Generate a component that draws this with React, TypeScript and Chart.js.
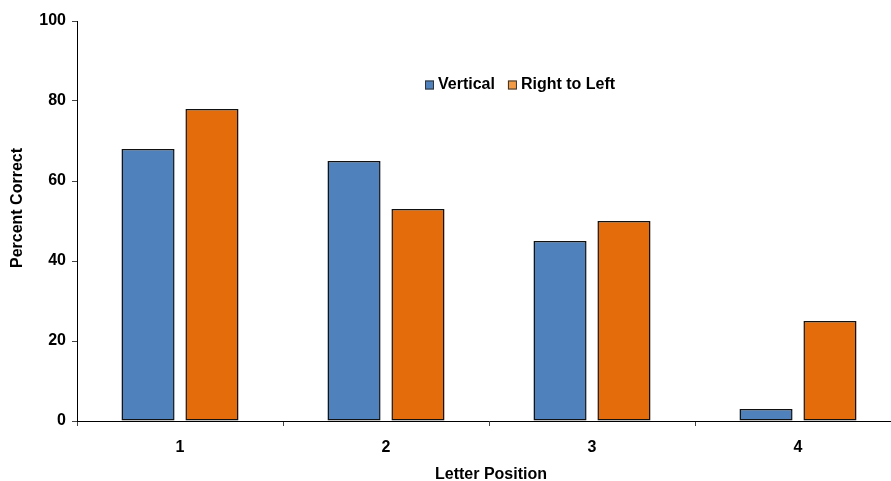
import React, { useEffect, useRef } from "react";
import { Chart, registerables } from "chart.js";

Chart.register(...registerables);

const categories = ["1", "2", "3", "4"];
const verticalValues = [68, 65, 45, 3];
const rightToLeftValues = [78, 53, 50, 25];
const yTicks = [0, 20, 40, 60, 80, 100];
const seriesNames = ["Vertical", "Right to Left"];
const xTitle = "Letter Position";
const yTitle = "Percent Correct";

const BLUE = "#4F81BD";
const ORANGE = "#E46C0A";
const FONT = "'Liberation Sans', Arial, sans-serif";

export default function App() {
  const ref = useRef<HTMLCanvasElement | null>(null);

  useEffect(() => {
    document.body.style.margin = "0";
    const canvas = ref.current;
    if (!canvas) return;

    const decor = {
      id: "decor",
      afterDraw(chart: any) {
        const ctx = chart.ctx;
        ctx.save();
        ctx.fillStyle = "#000";
        ctx.font = `bold 16px ${FONT}`;
        // y title
        ctx.save();
        ctx.translate(18, 208);
        ctx.rotate(-Math.PI / 2);
        ctx.textAlign = "center";
        ctx.textBaseline = "middle";
        ctx.fillText(yTitle, 0, 0);
        ctx.restore();
        // x title
        ctx.textAlign = "center";
        ctx.textBaseline = "middle";
        ctx.fillText(xTitle, 491, 475);
        // legend
        const items = chart.data.datasets.map((d: any, i: number) => ({
          label: d.label,
          color: i === 0 ? BLUE : "#F39A45",
        }));
        let x = 425;
        const y = 85;
        ctx.textAlign = "left";
        items.forEach((it: any) => {
          ctx.fillStyle = it.color;
          ctx.fillRect(x, y - 4.5, 9, 9);
          ctx.strokeStyle = "#333";
          ctx.lineWidth = 1;
          ctx.strokeRect(x + 0.5, y - 4, 8, 8);
          ctx.fillStyle = "#000";
          ctx.fillText(it.label, x + 13, y);
          x += 13 + ctx.measureText(it.label).width + 13;
        });
        ctx.restore();
      },
    };

    const common = {
      borderColor: "#111",
      borderWidth: 1.5,
      borderSkipped: false,
      categoryPercentage: 0.621,
      barPercentage: 0.83,
    };

    const chart = new Chart(canvas, {
      type: "bar",
      data: {
        labels: categories,
        datasets: [
          { label: seriesNames[0], data: verticalValues, backgroundColor: BLUE, ...common },
          { label: seriesNames[1], data: rightToLeftValues, backgroundColor: ORANGE, ...common },
        ],
      },
      options: {
        responsive: false,
        animation: false,
        layout: { padding: { top: 21, right: 0, left: 0, bottom: 0 } },
        plugins: { legend: { display: false }, tooltip: { enabled: false } },
        scales: {
          x: {
            afterFit: (s: any) => {
              s.height = 60;
            },
            grid: {
              offset: true,
              drawOnChartArea: false,
              tickLength: 5,
              color: "#444",
            },
            border: { color: "#000", width: 1 },
            ticks: {
              color: "#000",
              font: { family: FONT, size: 16, weight: "bold" },
              padding: 12,
            },
          },
          y: {
            min: 0,
            max: 100,
            afterFit: (s: any) => {
              s.width = 77;
            },
            afterBuildTicks: (s: any) => {
              s.ticks = yTicks.map((v) => ({ value: v }));
            },
            grid: {
              drawOnChartArea: false,
              tickLength: 5,
              color: "#444",
            },
            border: { color: "#000", width: 1 },
            ticks: {
              color: "#000",
              font: { family: FONT, size: 16, weight: "bold" },
              padding: 6,
            },
          },
        },
      },
      plugins: [decor],
    });
    return () => chart.destroy();
  }, []);

  return (
    <div
      style={{
        position: "fixed",
        left: 0,
        top: 0,
        width: 891,
        height: 481,
        overflow: "hidden",
        background: "#fff",
      }}
    >
      <canvas ref={ref} width={901} height={481} style={{ display: "block" }} />
    </div>
  );
}
